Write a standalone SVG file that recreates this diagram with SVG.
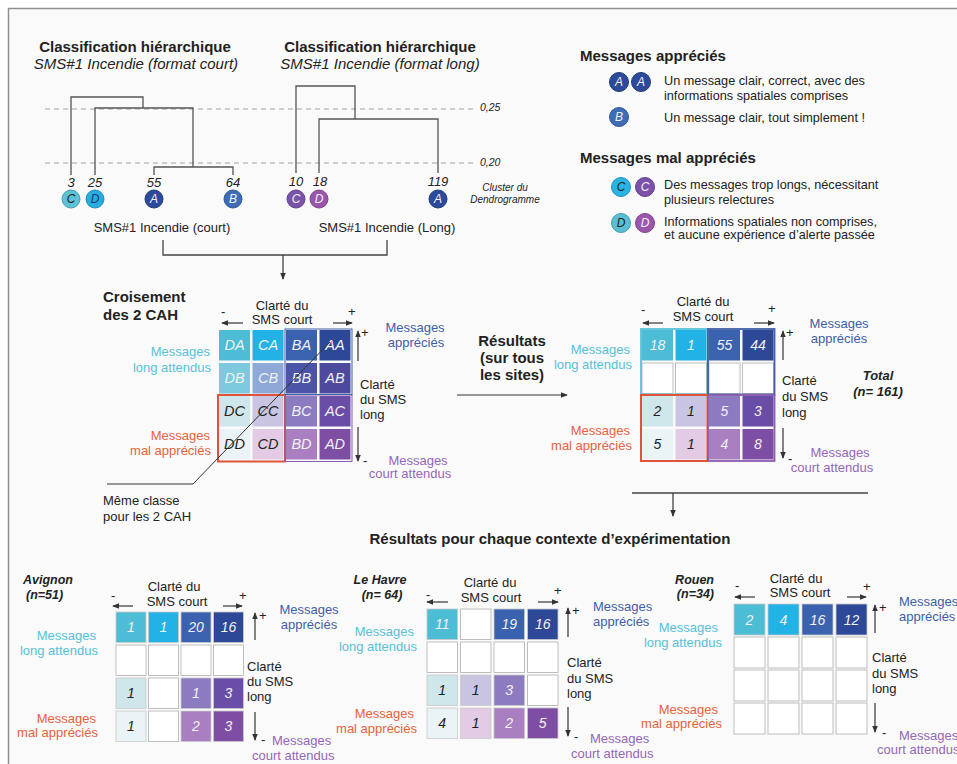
<svg xmlns="http://www.w3.org/2000/svg" width="957" height="764" viewBox="0 0 957 764">
<defs>
<style>
text{font-family:"Liberation Sans",Arial,Helvetica,sans-serif;fill:#222}
.h{font-size:15px;font-weight:bold}
.hi{font-size:15px;font-style:italic}
.l{font-size:13px}
.lg{font-size:12.7px}
.sm{font-size:10.5px;font-style:italic}
.num{font-size:13px;font-style:italic}
.bi{font-size:12.5px;font-weight:bold;font-style:italic}
.m{text-anchor:middle}
.e{text-anchor:end}
.cy{fill:#58c0d8}
.rd{fill:#e5623f}
.bl{fill:#3f5ea7}
.pu{fill:#9467b8}
.cl{font-size:12px;font-style:italic;text-anchor:middle}
.ct{font-size:14.5px;font-style:italic;text-anchor:middle}
.cn{font-size:14px;font-style:italic;text-anchor:middle}
.w{fill:#f2f2f2}
.k{fill:#222}
.ln{fill:none;stroke:#555;stroke-width:1.3}
.dash{fill:none;stroke:#a0a0a0;stroke-width:1;stroke-dasharray:5 4}
.ax{fill:none;stroke:#333;stroke-width:1.2;marker-end:url(#arr)}
.cn1{fill:none;stroke:#444;stroke-width:1.3}
.emp{fill:#fff;stroke:#bdbdbd;stroke-width:1}
.bc{stroke:#c9c9c9;stroke-width:0.8}
</style>
<marker id="arr" viewBox="0 0 8 8" refX="7" refY="4" markerWidth="7" markerHeight="7" markerUnits="userSpaceOnUse" orient="auto">
<path d="M0,0.8 L8,4 L0,7.2 z" fill="#333"/>
</marker>
</defs>

<rect x="0" y="0" width="957" height="764" fill="#ffffff"/>
<rect x="8" y="8" width="949" height="756" fill="#fafafa"/>
<path d="M8.5,764 V8.5 H957" fill="none" stroke="#8f8f8f" stroke-width="1.5"/>

<!-- Titles -->
<g id="title-court">
<text class="h m" x="135" y="52">Classification hiérarchique</text>
<text class="hi m" x="136" y="69">SMS#1 Incendie (format court)</text>
</g>
<g id="title-long">
<text class="h m" x="380" y="52">Classification hiérarchique</text>
<text class="hi m" x="380" y="69">SMS#1 Incendie (format long)</text>
</g>

<!-- Scale -->
<g id="scale">
<line class="dash" x1="45" y1="109" x2="476" y2="109"/>
<line class="dash" x1="45" y1="163" x2="476" y2="163"/>
<text class="sm" x="480" y="111">0,25</text>
<text class="sm" x="480" y="166">0,20</text>
<text class="sm m" x="505" y="191" style="font-size:10px">Cluster du</text>
<text class="sm m" x="505" y="203" style="font-size:10px">Dendrogramme</text>
</g>

<!-- Dendrogram court -->
<g id="dendro-court">
<path class="ln" d="M71,175 V97 H143 V108"/>
<path class="ln" d="M95,175 V108 H193 V167"/>
<path class="ln" d="M154,175 V167 H233 V175"/>
<text class="num m" x="71" y="187">3</text>
<text class="num m" x="95" y="187">25</text>
<text class="num m" x="154" y="187">55</text>
<text class="num m" x="233" y="187">64</text>
<circle cx="71" cy="199" r="9" fill="#5ec1d6" stroke="#3f9fb5"/>
<text class="cl k" x="71" y="203.3">C</text>
<circle cx="95" cy="199" r="9" fill="#27ade2" stroke="#1b8fc0"/>
<text class="cl" x="95" y="203.3" style="fill:#1e3a6e">D</text>
<circle cx="154" cy="199" r="9" fill="#2b4a9b" stroke="#213a7c"/>
<text class="cl w" x="154" y="203.3">A</text>
<circle cx="233" cy="199" r="9" fill="#3f6db5" stroke="#2f5797"/>
<text class="cl w" x="233" y="203.3">B</text>
<text class="l m" x="162" y="231.5">SMS#1 Incendie (court)</text>
</g>

<!-- Dendrogram long -->
<g id="dendro-long">
<path class="ln" d="M296,173 V86 H355 V119"/>
<path class="ln" d="M319,173 V119 H438 V173"/>
<text class="num m" x="296" y="186">10</text>
<text class="num m" x="320" y="186">18</text>
<text class="num m" x="438" y="186">119</text>
<circle cx="296" cy="199" r="9" fill="#7b52a9" stroke="#633f8d"/>
<text class="cl w" x="296" y="203.3">C</text>
<circle cx="319" cy="199" r="9" fill="#9b56ac" stroke="#7f418f"/>
<text class="cl w" x="319" y="203.3">D</text>
<circle cx="438" cy="199" r="9" fill="#2b4a9b" stroke="#213a7c"/>
<text class="cl w" x="438" y="203.3">A</text>
<text class="l m" x="387" y="231.5">SMS#1 Incendie (Long)</text>
</g>

<!-- Legend -->
<g id="legend">
<text class="h" x="580" y="61">Messages appréciés</text>
<circle cx="619" cy="82" r="9.5" fill="#2b4a9b" stroke="#213a7c"/>
<text class="cl w" x="619" y="86.3">A</text>
<circle cx="641" cy="82" r="9.5" fill="#2b4a9b" stroke="#213a7c"/>
<text class="cl w" x="641" y="86.3">A</text>
<text class="lg" x="664" y="85">Un message clair, correct, avec des</text>
<text class="lg" x="664" y="99.5">informations spatiales comprises</text>
<circle cx="619" cy="117" r="9.5" fill="#3f6db5" stroke="#2f5797"/>
<text class="cl w" x="619" y="121.3">B</text>
<text class="lg" x="664" y="121.5">Un message clair, tout simplement !</text>
<text class="h" x="580" y="163">Messages mal appréciés</text>
<circle cx="621" cy="187" r="9.5" fill="#2ab4e4" stroke="#1b95c2"/>
<text class="cl k" x="621" y="191.3">C</text>
<circle cx="645" cy="187" r="9.5" fill="#7b52a9" stroke="#633f8d"/>
<text class="cl w" x="645" y="191.3">C</text>
<text class="lg" x="664" y="188.5">Des messages trop longs, nécessitant</text>
<text class="lg" x="664" y="203.5">plusieurs relectures</text>
<circle cx="621" cy="223" r="9.5" fill="#5cbfd1" stroke="#3f9fb2"/>
<text class="cl k" x="621" y="227.3">D</text>
<circle cx="645" cy="223" r="9.5" fill="#9b56ac" stroke="#7f418f"/>
<text class="cl w" x="645" y="227.3">D</text>
<text class="lg" x="664" y="225.5">Informations spatiales non comprises,</text>
<text class="lg" x="664" y="238.5">et aucune expérience d’alerte passée</text>
</g>

<!-- Crossing matrix -->
<g id="cross-matrix">
<text class="h" x="103" y="302">Croisement</text>
<text class="h" x="103" y="320">des 2 CAH</text>
<text class="l m" x="282" y="309.5">Clarté du</text>
<text class="l m" x="282" y="323.5">SMS court</text>
<text class="l" x="221" y="316">-</text>
<text class="l" x="348" y="316">+</text>
<path class="ax" d="M243,323 H222"/>
<path class="ax" d="M333,323 H352"/>
<rect x="219" y="330" width="31" height="30.5" fill="#4dbcd5"/>
<rect x="252.5" y="330" width="31" height="30.5" fill="#22b2e5"/>
<rect x="286" y="330" width="31" height="30.5" fill="#3a62ae"/>
<rect x="319.5" y="330" width="31" height="30.5" fill="#2d4897"/>
<rect x="219" y="363" width="31" height="30.5" fill="#7dc9de"/>
<rect x="252.5" y="363" width="31" height="30.5" fill="#8ea8d8"/>
<rect x="286" y="363" width="31" height="30.5" fill="#4b54a6"/>
<rect x="319.5" y="363" width="31" height="30.5" fill="#4d4a9e"/>
<rect x="219" y="396" width="31" height="30.5" fill="#cfe6eb"/>
<rect x="252.5" y="396" width="31" height="30.5" fill="#c8c4e2"/>
<rect x="286" y="396" width="31" height="30.5" fill="#8d7bc1"/>
<rect x="319.5" y="396" width="31" height="30.5" fill="#6a4da6"/>
<rect x="219" y="429" width="31" height="30.5" fill="#eaf3f6"/>
<rect x="252.5" y="429" width="31" height="30.5" fill="#e3cbe5"/>
<rect x="286" y="429" width="31" height="30.5" fill="#a97fc2"/>
<rect x="319.5" y="429" width="31" height="30.5" fill="#7e4ea5"/>
<rect x="218" y="395" width="67" height="66.5" fill="none" stroke="#e0533a" stroke-width="2"/>
<rect x="285" y="395" width="67" height="66.5" fill="none" stroke="#8a5bb0" stroke-width="1"/>
<rect x="285" y="329" width="67" height="65.5" fill="none" stroke="#3f5ea7" stroke-width="1"/>
<text class="ct w" x="234.5" y="350">DA</text>
<text class="ct w" x="268" y="350">CA</text>
<text class="ct w" x="301.5" y="350">BA</text>
<text class="ct w" x="335" y="350">AA</text>
<text class="ct w" x="234.5" y="383">DB</text>
<text class="ct w" x="268" y="383">CB</text>
<text class="ct w" x="301.5" y="383">BB</text>
<text class="ct w" x="335" y="383">AB</text>
<text class="ct k" x="234.5" y="416">DC</text>
<text class="ct k" x="268" y="416">CC</text>
<text class="ct w" x="301.5" y="416">BC</text>
<text class="ct w" x="335" y="416">AC</text>
<text class="ct k" x="234.5" y="449">DD</text>
<text class="ct k" x="268" y="449">CD</text>
<text class="ct w" x="301.5" y="449">BD</text>
<text class="ct w" x="335" y="449">AD</text>
<path class="ax" d="M358,361 V331"/>
<text class="l" x="361" y="337">+</text>
<path class="ax" d="M358,427 V461"/>
<text class="l" x="363" y="465">-</text>
<text class="l e cy" x="210" y="356">Messages</text>
<text class="l e cy" x="211" y="371.5">long attendus</text>
<text class="l e rd" x="210" y="439.5">Messages</text>
<text class="l e rd" x="211" y="454.5">mal appréciés</text>
<text class="l m bl" x="415" y="332">Messages</text>
<text class="l m bl" x="416" y="346.5">appréciés</text>
<text class="l" x="360" y="388.5">Clarté</text>
<text class="l" x="360" y="403.5">du SMS</text>
<text class="l" x="360" y="418.5">long</text>
<text class="l m pu" x="418" y="464.5">Messages</text>
<text class="l m pu" x="410" y="478">court attendus</text>
<path d="M330,342 L193,484 H107" fill="none" stroke="#333" stroke-width="1"/>
<text class="l" x="103" y="504.5">Même classe</text>
<text class="l" x="103" y="520.5">pour les 2 CAH</text>
</g>

<!-- Results matrix -->
<g id="results-matrix">
<text class="h m" x="512" y="346">Résultats</text>
<text class="h m" x="512" y="363">(sur tous</text>
<text class="h m" x="512" y="380">les sites)</text>
<text class="l m" x="703" y="306">Clarté du</text>
<text class="l m" x="703" y="321">SMS court</text>
<text class="l" x="641" y="314">-</text>
<text class="l" x="768" y="313">+</text>
<path class="ax" d="M663,323 H643"/>
<path class="ax" d="M754,323 H774"/>
<rect x="642" y="330" width="31" height="30.5" fill="#4dbcd5"/>
<rect x="675.5" y="330" width="31" height="30.5" fill="#22b2e5"/>
<rect x="709" y="330" width="31" height="30.5" fill="#3a62ae"/>
<rect x="742.5" y="330" width="31" height="30.5" fill="#2d4897"/>
<rect class="emp" x="642" y="363" width="31" height="30.5"/>
<rect class="emp" x="675.5" y="363" width="31" height="30.5"/>
<rect class="emp" x="709" y="363" width="31" height="30.5"/>
<rect class="emp" x="742.5" y="363" width="31" height="30.5"/>
<rect x="642" y="396" width="31" height="30.5" fill="#cfe6eb"/>
<rect x="675.5" y="396" width="31" height="30.5" fill="#c8c4e2"/>
<rect x="709" y="396" width="31" height="30.5" fill="#8d7bc1"/>
<rect x="742.5" y="396" width="31" height="30.5" fill="#6a4da6"/>
<rect x="642" y="429" width="31" height="30.5" fill="#eaf3f6"/>
<rect x="675.5" y="429" width="31" height="30.5" fill="#e3cbe5"/>
<rect x="709" y="429" width="31" height="30.5" fill="#a97fc2"/>
<rect x="742.5" y="429" width="31" height="30.5" fill="#7e4ea5"/>
<rect x="641" y="329" width="66.5" height="65.5" fill="none" stroke="#58c0d8" stroke-width="1.8"/>
<rect x="708" y="329" width="66.5" height="65.5" fill="none" stroke="#3f5ea7" stroke-width="1.8"/>
<rect x="641" y="395" width="66.5" height="66" fill="none" stroke="#e0533a" stroke-width="2"/>
<rect x="708" y="395" width="66.5" height="66" fill="none" stroke="#8a5bb0" stroke-width="1.8"/>
<text class="cn w" x="657.5" y="350">18</text>
<text class="cn w" x="691" y="350">1</text>
<text class="cn w" x="724.5" y="350">55</text>
<text class="cn w" x="758" y="350">44</text>
<text class="cn k" x="657.5" y="416">2</text>
<text class="cn k" x="691" y="416">1</text>
<text class="cn w" x="724.5" y="416">5</text>
<text class="cn w" x="758" y="416">3</text>
<text class="cn k" x="657.5" y="449">5</text>
<text class="cn k" x="691" y="449">1</text>
<text class="cn w" x="724.5" y="449">4</text>
<text class="cn w" x="758" y="449">8</text>
<path class="ax" d="M783,360 V331"/>
<text class="l" x="786" y="337">+</text>
<path class="ax" d="M783,428 V458"/>
<text class="l" x="788" y="463">-</text>
<text class="l m bl" x="839" y="327.5">Messages</text>
<text class="l m bl" x="839" y="342.5">appréciés</text>
<text class="l" x="782" y="384.5">Clarté</text>
<text class="l" x="782" y="401">du SMS</text>
<text class="l" x="782" y="416.5">long</text>
<text class="bi m" x="878" y="380" style="font-size:13px">Total</text>
<text class="bi m" x="878" y="395.5" style="font-size:13px">(n= 161)</text>
<text class="l e cy" x="630" y="353.5">Messages</text>
<text class="l e cy" x="632" y="368.5">long attendus</text>
<text class="l e rd" x="630" y="435">Messages</text>
<text class="l e rd" x="632" y="450">mal appréciés</text>
<text class="l m pu" x="840" y="457">Messages</text>
<text class="l m pu" x="832" y="472">court attendus</text>
</g>

<text class="h m" x="550" y="544">Résultats pour chaque contexte d’expérimentation</text>

<!-- Avignon -->
<g id="avignon">
<text class="bi" x="23" y="584">Avignon</text>
<text class="bi" x="26" y="598.5">(n=51)</text>
<text class="l m" x="174" y="590.5">Clarté du</text>
<text class="l m" x="177" y="605.5">SMS court</text>
<text class="l" x="111" y="600">-</text>
<text class="l" x="239" y="600">+</text>
<path class="ax" d="M133,606 H113"/>
<path class="ax" d="M223,606 H242"/>
<rect class="bc" x="116" y="612" width="30" height="30.5" fill="#4dbcd5"/>
<rect class="bc" x="148.5" y="612" width="30" height="30.5" fill="#22b2e5"/>
<rect class="bc" x="181" y="612" width="30" height="30.5" fill="#3a62ae"/>
<rect class="bc" x="213.5" y="612" width="30" height="30.5" fill="#2d4897"/>
<rect class="emp" x="116" y="645" width="30" height="30.5"/>
<rect class="emp" x="148.5" y="645" width="30" height="30.5"/>
<rect class="emp" x="181" y="645" width="30" height="30.5"/>
<rect class="emp" x="213.5" y="645" width="30" height="30.5"/>
<rect class="bc" x="116" y="678" width="30" height="30.5" fill="#cfe6eb"/>
<rect class="emp" x="148.5" y="678" width="30" height="30.5"/>
<rect class="bc" x="181" y="678" width="30" height="30.5" fill="#8d7bc1"/>
<rect class="bc" x="213.5" y="678" width="30" height="30.5" fill="#6a4da6"/>
<rect class="bc" x="116" y="711" width="30" height="30.5" fill="#eaf3f6"/>
<rect class="emp" x="148.5" y="711" width="30" height="30.5"/>
<rect class="bc" x="181" y="711" width="30" height="30.5" fill="#a97fc2"/>
<rect class="bc" x="213.5" y="711" width="30" height="30.5" fill="#7e4ea5"/>
<text class="cn w" x="131" y="632">1</text>
<text class="cn w" x="163.5" y="632">1</text>
<text class="cn w" x="196" y="632">20</text>
<text class="cn w" x="228.5" y="632">16</text>
<text class="cn k" x="131" y="698">1</text>
<text class="cn w" x="196" y="698">1</text>
<text class="cn w" x="228.5" y="698">3</text>
<text class="cn k" x="131" y="731">1</text>
<text class="cn w" x="196" y="731">2</text>
<text class="cn w" x="228.5" y="731">3</text>
<path class="ax" d="M255,640 V613"/>
<text class="l" x="259" y="620">+</text>
<path class="ax" d="M255,712 V740"/>
<text class="l" x="261" y="744">-</text>
<text class="l m bl" x="309" y="613.5">Messages</text>
<text class="l m bl" x="309" y="628.5">appréciés</text>
<text class="l" x="247" y="670.5">Clarté</text>
<text class="l" x="247" y="686">du SMS</text>
<text class="l" x="247" y="701">long</text>
<text class="l pu" x="272" y="744.5">Messages</text>
<text class="l pu" x="252" y="759.5">court attendus</text>
<text class="l e cy" x="96" y="639.5">Messages</text>
<text class="l e cy" x="98" y="655">long attendus</text>
<text class="l e rd" x="96" y="722.5">Messages</text>
<text class="l e rd" x="98" y="736.5">mal appréciés</text>
</g>

<!-- Le Havre -->
<g id="lehavre">
<text class="bi m" x="380" y="584">Le Havre</text>
<text class="bi m" x="382" y="598.5">(n= 64)</text>
<text class="l m" x="490" y="587">Clarté du</text>
<text class="l m" x="491" y="602">SMS court</text>
<text class="l" x="426" y="599">-</text>
<text class="l" x="554" y="595">+</text>
<path class="ax" d="M448,602 H427"/>
<path class="ax" d="M538,602 H558"/>
<rect class="bc" x="427" y="609" width="30.5" height="30.5" fill="#4dbcd5"/>
<rect class="emp" x="460.5" y="609" width="30.5" height="30.5"/>
<rect class="bc" x="494" y="609" width="30.5" height="30.5" fill="#3a62ae"/>
<rect class="bc" x="527.5" y="609" width="30.5" height="30.5" fill="#2d4897"/>
<rect class="emp" x="427" y="642" width="30.5" height="30.5"/>
<rect class="emp" x="460.5" y="642" width="30.5" height="30.5"/>
<rect class="emp" x="494" y="642" width="30.5" height="30.5"/>
<rect class="emp" x="527.5" y="642" width="30.5" height="30.5"/>
<rect class="bc" x="427" y="675" width="30.5" height="30.5" fill="#cfe6eb"/>
<rect class="bc" x="460.5" y="675" width="30.5" height="30.5" fill="#c8c4e2"/>
<rect class="bc" x="494" y="675" width="30.5" height="30.5" fill="#8d7bc1"/>
<rect class="emp" x="527.5" y="675" width="30.5" height="30.5"/>
<rect class="bc" x="427" y="708" width="30.5" height="30.5" fill="#eaf3f6"/>
<rect class="bc" x="460.5" y="708" width="30.5" height="30.5" fill="#e3cbe5"/>
<rect class="bc" x="494" y="708" width="30.5" height="30.5" fill="#a97fc2"/>
<rect class="bc" x="527.5" y="708" width="30.5" height="30.5" fill="#7e4ea5"/>
<text class="cn w" x="442.25" y="629">11</text>
<text class="cn w" x="509.25" y="629">19</text>
<text class="cn w" x="542.75" y="629">16</text>
<text class="cn k" x="442.25" y="695">1</text>
<text class="cn k" x="475.75" y="695">1</text>
<text class="cn w" x="509.25" y="695">3</text>
<text class="cn k" x="442.25" y="728">4</text>
<text class="cn k" x="475.75" y="728">1</text>
<text class="cn w" x="509.25" y="728">2</text>
<text class="cn w" x="542.75" y="728">5</text>
<path class="ax" d="M568,637 V608"/>
<text class="l" x="572" y="615">+</text>
<path class="ax" d="M568,707 V736"/>
<text class="l" x="574" y="741">-</text>
<text class="l bl" x="593" y="610.5">Messages</text>
<text class="l bl" x="593" y="626">appréciés</text>
<text class="l" x="567" y="667">Clarté</text>
<text class="l" x="567" y="682.5">du SMS</text>
<text class="l" x="567" y="697.5">long</text>
<text class="l pu" x="590" y="742.5">Messages</text>
<text class="l pu" x="571" y="757.5">court attendus</text>
<text class="l e cy" x="414" y="635.5">Messages</text>
<text class="l e cy" x="417" y="651">long attendus</text>
<text class="l e rd" x="414" y="717.5">Messages</text>
<text class="l e rd" x="417" y="732.5">mal appréciés</text>
</g>

<!-- Rouen -->
<g id="rouen">
<text class="bi e" x="714" y="583.5">Rouen</text>
<text class="bi e" x="714" y="598">(n=34)</text>
<text class="l m" x="796" y="582.5">Clarté du</text>
<text class="l m" x="800" y="597">SMS court</text>
<text class="l" x="735" y="590">-</text>
<text class="l" x="863" y="591">+</text>
<path class="ax" d="M755,597 H735"/>
<path class="ax" d="M847,597 H866"/>
<rect class="bc" x="734" y="604" width="31" height="31" fill="#4dbcd5"/>
<rect class="bc" x="768" y="604" width="31" height="31" fill="#22b2e5"/>
<rect class="bc" x="802" y="604" width="31" height="31" fill="#3a62ae"/>
<rect class="bc" x="836" y="604" width="31" height="31" fill="#2d4897"/>
<rect class="emp" x="734" y="637" width="31" height="31"/>
<rect class="emp" x="768" y="637" width="31" height="31"/>
<rect class="emp" x="802" y="637" width="31" height="31"/>
<rect class="emp" x="836" y="637" width="31" height="31"/>
<rect class="emp" x="734" y="670" width="31" height="31"/>
<rect class="emp" x="768" y="670" width="31" height="31"/>
<rect class="emp" x="802" y="670" width="31" height="31"/>
<rect class="emp" x="836" y="670" width="31" height="31"/>
<rect class="emp" x="734" y="703" width="31" height="31"/>
<rect class="emp" x="768" y="703" width="31" height="31"/>
<rect class="emp" x="802" y="703" width="31" height="31"/>
<rect class="emp" x="836" y="703" width="31" height="31"/>
<text class="cn w" x="749.5" y="624.5">2</text>
<text class="cn w" x="783.5" y="624.5">4</text>
<text class="cn w" x="817.5" y="624.5">16</text>
<text class="cn w" x="851.5" y="624.5">12</text>
<path class="ax" d="M875,633 V605"/>
<text class="l" x="879" y="612">+</text>
<path class="ax" d="M875,703 V732"/>
<text class="l" x="882" y="737">-</text>
<text class="l bl" x="899" y="606">Messages</text>
<text class="l bl" x="899" y="621">appréciés</text>
<text class="l" x="872" y="661.5">Clarté</text>
<text class="l" x="872" y="677.5">du SMS</text>
<text class="l" x="872" y="692.5">long</text>
<text class="l pu" x="899" y="739.5">Messages</text>
<text class="l pu" x="877" y="753.5">court attendus</text>
<text class="l e cy" x="718" y="631.5">Messages</text>
<text class="l e cy" x="722" y="647">long attendus</text>
<text class="l e rd" x="718" y="713.5">Messages</text>
<text class="l e rd" x="722" y="727.5">mal appréciés</text>
</g>

<!-- Connectors -->
<g id="connectors">
<path class="cn1" d="M163,240 V255 H387 V240"/>
<path class="ax" d="M283,255 V279"/>
<path class="ax" d="M457,395 H567"/>
<path class="cn1" d="M632,493 H868"/>
<path class="ax" d="M673,493 V516"/>
</g>
</svg>
